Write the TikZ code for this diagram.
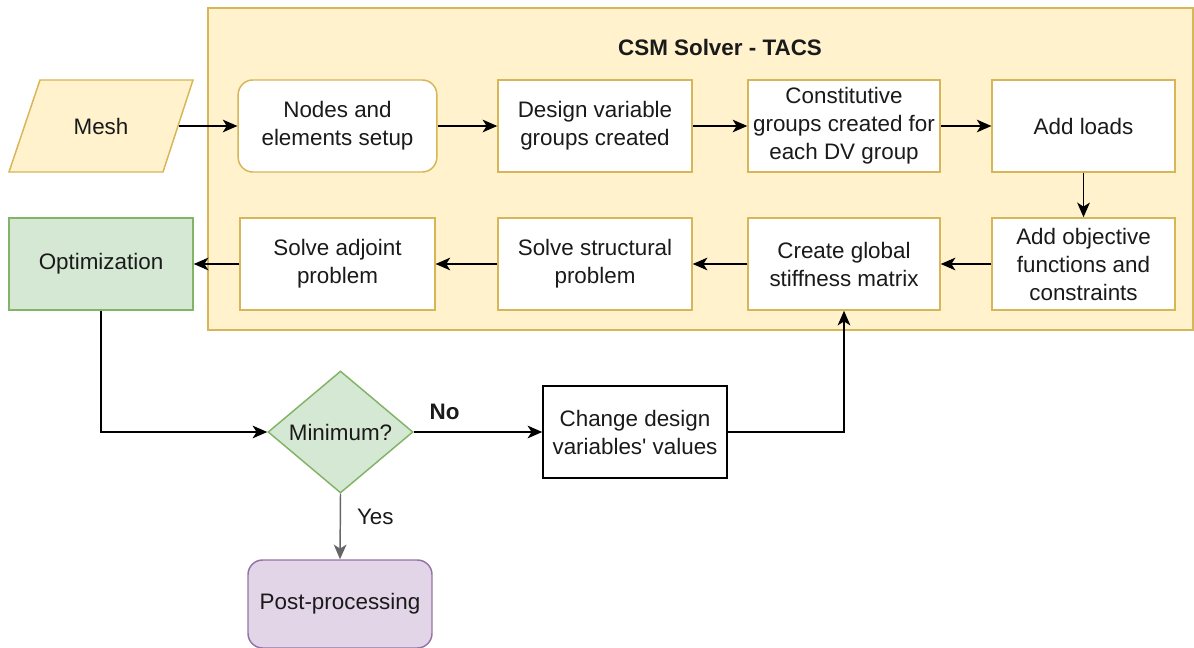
\documentclass[tikz,border=0pt]{standalone}
\usepackage{fontspec}
\setmainfont{Liberation Sans}
\newfontfamily\plainsans{Liberation Sans}
\usetikzlibrary{arrows.meta,shapes.geometric,positioning}
\definecolor{yfill}{HTML}{FFF2CC}
\definecolor{ystroke}{HTML}{D6B656}
\definecolor{gfill}{HTML}{D5E8D4}
\definecolor{gstroke}{HTML}{82B366}
\definecolor{pfill}{HTML}{E1D5E7}
\definecolor{pstroke}{HTML}{9673A6}
\definecolor{txt}{HTML}{1A1A1A}
\begin{document}
\begin{tikzpicture}[x=0.75pt,y=-0.75pt,
  every node/.style={font=\fontsize{16.8}{21}\selectfont,text=txt,align=center,inner sep=2pt},
  ybox/.style={draw=ystroke,fill=white,line width=1.1pt,minimum height=69pt},
  conn/.style={draw=black,line width=1.1pt,-{Stealth[length=11pt,width=9.5pt,inset=3pt]}},
]
\useasboundingbox (0,0) rectangle (1194,648);
% container
\draw[draw=ystroke,fill=yfill,line width=1.1pt] (208,8) rectangle (1193,330);
\node[font=\fontsize{16.8}{21}\selectfont\bfseries] (title) at (720,47) {CSM Solver - TACS};
% mesh parallelogram
\draw[draw=ystroke,fill=yfill,line width=1.1pt] (9,172) -- (40,80) -- (193,80) -- (163,172) -- cycle;
\node[minimum width=116pt,minimum height=69pt] (mesh) at (101,126) {Mesh};
% row 1
\node[ybox,rounded corners=11pt,minimum width=149pt] (nodes) at (337.5,126) {Nodes and\\elements setup};
\node[ybox,minimum width=145.5pt] (dv) at (595,126) {Design variable\\groups created};
\node[ybox,minimum width=144pt] (const) at (844,126) {Constitutive\\groups created for\\each DV group};
\node[ybox,minimum width=137pt] (loads) at (1083.5,126) {Add loads};
% row 2
\node[ybox,minimum width=137pt] (obj) at (1083.5,264) {Add objective\\functions and\\constraints};
\node[ybox,minimum width=144pt] (glob) at (844,264) {Create global\\stiffness matrix};
\node[ybox,minimum width=145.5pt] (struct) at (595,264) {Solve structural\\problem};
\node[ybox,minimum width=146pt] (adj) at (337.5,264) {Solve adjoint\\problem};
\node[draw=gstroke,fill=gfill,line width=1.1pt,minimum width=138pt,minimum height=69pt] (opt) at (101,264) {Optimization};
% lower
\node[draw=gstroke,fill=gfill,line width=1.1pt,diamond,minimum width=108.75pt,minimum height=91.5pt,inner sep=0pt] (min) at (340.5,432) {Minimum?};
\node[draw=black,line width=1.1pt,minimum width=138pt,minimum height=69pt,font=\fontsize{16.8}{21}\plainsans] (chg) at (635,432) {Change design\\variables' values};
\node[draw=pstroke,fill=pfill,line width=1.1pt,rounded corners=11pt,minimum width=138pt,minimum height=66pt] (post) at (340,604) {Post-processing};
% connectors
\draw[conn] (mesh.east) -- (nodes.west);
\draw[conn] (nodes) -- (dv);
\draw[conn] (dv) -- (const);
\draw[conn] (const) -- (loads);
\draw[conn] (loads) -- (obj);
\draw[conn] (obj) -- (glob);
\draw[conn] (glob) -- (struct);
\draw[conn] (struct) -- (adj);
\draw[conn] (adj) -- (opt);
\draw[conn] (opt.south) |- (min.west);
\draw[conn] (min.east) -- node[above=7pt,pos=0.24,font=\fontsize{16.8}{21}\selectfont\bfseries] (no) {No} (chg.west);
\draw[conn] (chg.east) -| (glob.south);
\draw[conn,draw=black!60] (min.south) -- node[right=10pt,pos=0.35] (yes) {Yes} (post.north);
\end{tikzpicture}
\end{document}
